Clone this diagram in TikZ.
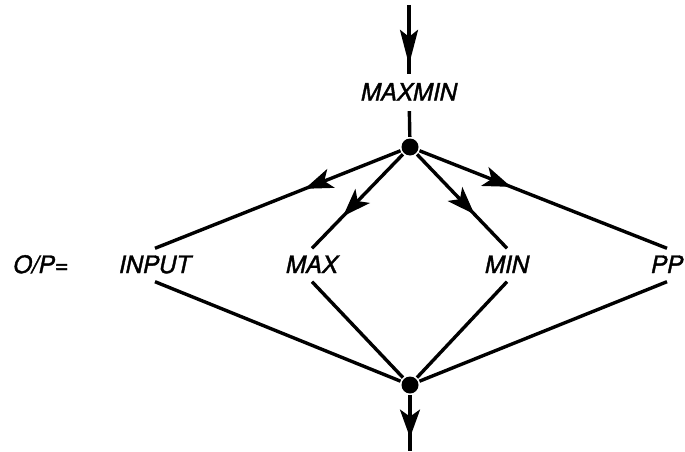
\documentclass[tikz,border=0pt]{standalone}
\usepackage{fontspec}
\setmainfont{TeX Gyre Heros}[ItalicFeatures={FakeBold=1.5}]
\usetikzlibrary{arrows.meta,decorations.markings}

\begin{document}
\begin{tikzpicture}[x=1pt,y=1pt,line width=3.4pt,>={Stealth[length=28pt,width=20pt,inset=7pt]},
  lbl/.style={font=\fontsize{24}{27}\selectfont\itshape,text height=16pt,text depth=0pt,inner sep=7pt},
  dot/.style={circle,fill,inner sep=0pt,minimum size=17pt},
  midarrow/.style={postaction={decorate},decoration={markings,mark=at position #1 with {\arrow{>}}}}]
  \useasboundingbox (0,0) rectangle (685,451);
  % entrada y nodo de reparto
  \coordinate (in) at (409,446);
  \node[lbl,inner sep=9pt] (maxmin) at (409,358.5) {MAXMIN};
  \node[dot] (fork) at (410,304) {};
  \draw[midarrow=0.87,>={Stealth[length=35pt,width=18pt,inset=7pt]}] (in) -- (maxmin);
  \draw (maxmin) -- (fork);
  % salidas posibles
  \node[lbl] (op) at (41,186) {O/P=};
  \node[lbl] (input) at (155,186) {INPUT};
  \node[lbl] (max) at (312,186) {MAX};
  \node[lbl] (min) at (507,186) {MIN};
  \node[lbl] (pp) at (667,186) {PP};
  \foreach \t/\p in {input/0.39,max/0.66,min/0.64,pp/0.37}
    \draw[midarrow=\p] (fork) -- (\t.north);
  % union y salida
  \node[dot] (join) at (410,66) {};
  \coordinate (out) at (410,0);
  \foreach \t in {input,max,min,pp}
    \draw (\t.south) -- (join);
  \draw[midarrow=0.76] (join) -- (out);
\end{tikzpicture}
\end{document}
